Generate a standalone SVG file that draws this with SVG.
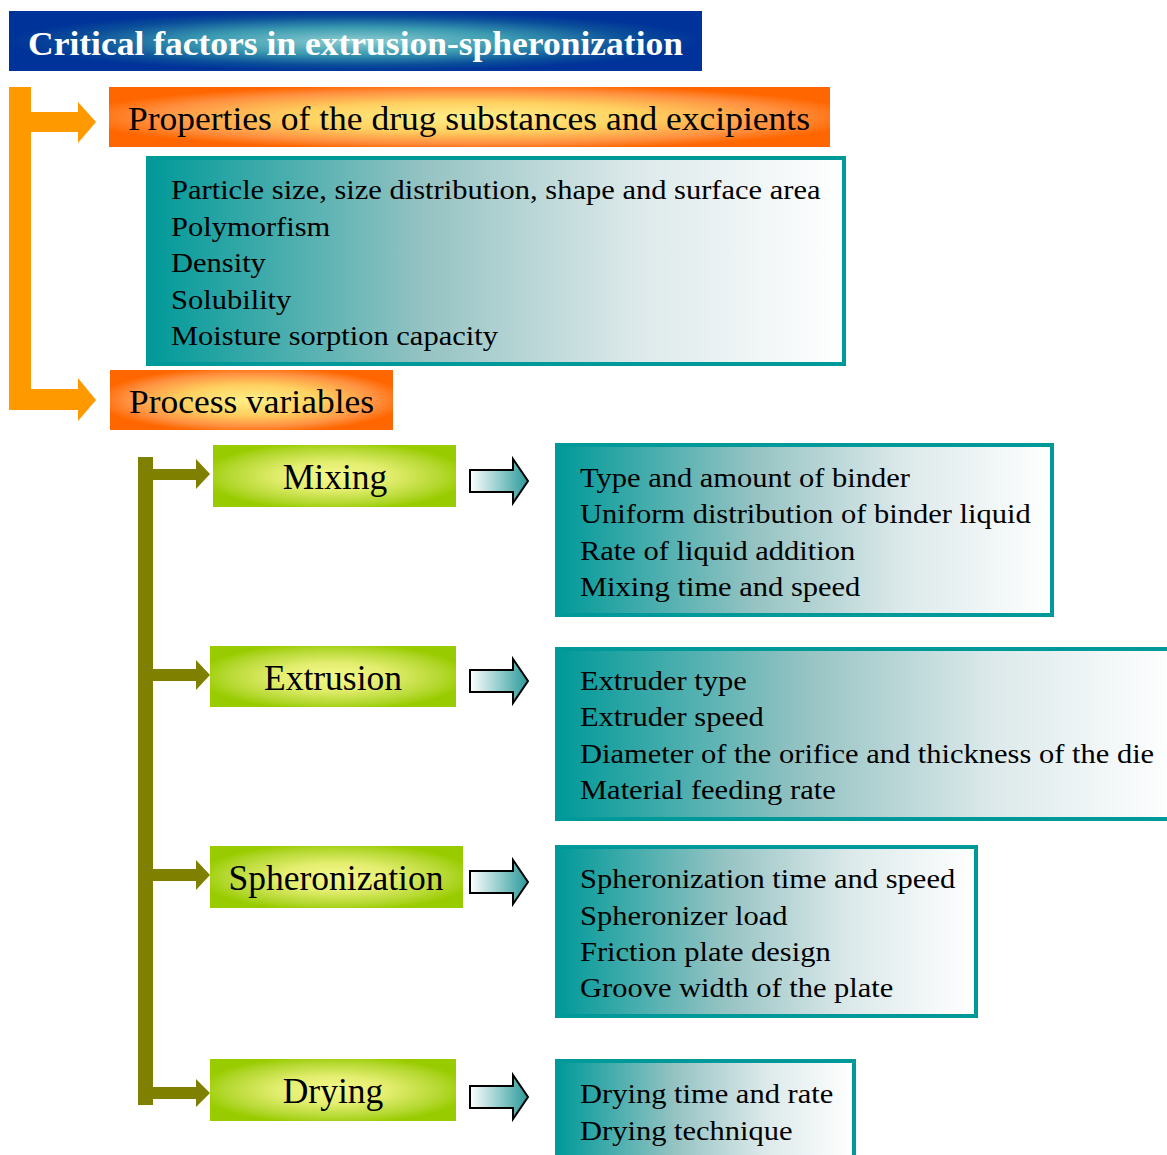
<svg xmlns="http://www.w3.org/2000/svg" width="1167" height="1155" viewBox="0 0 1167 1155">
<defs>
<radialGradient id="gTitle" cx="0.5" cy="0.5" r="0.5">
<stop offset="0" stop-color="#8CCDD0"/>
<stop offset="0.45" stop-color="#3A9AB0"/>
<stop offset="0.8" stop-color="#0A4E9A"/>
<stop offset="1" stop-color="#003399"/>
</radialGradient>
<radialGradient id="gOrange" cx="0.5" cy="0.5" r="0.55">
<stop offset="0" stop-color="#FFF08A"/>
<stop offset="0.45" stop-color="#FFD060"/>
<stop offset="0.8" stop-color="#FF9040"/>
<stop offset="1" stop-color="#FF6600"/>
</radialGradient>
<radialGradient id="gGreen" cx="0.5" cy="0.5" r="0.55">
<stop offset="0" stop-color="#F4F88A"/>
<stop offset="0.4" stop-color="#E4EE70"/>
<stop offset="0.8" stop-color="#B4D830"/>
<stop offset="1" stop-color="#99CC00"/>
</radialGradient>
<linearGradient id="gTeal" x1="0" y1="0" x2="1" y2="0">
<stop offset="0" stop-color="#009999"/>
<stop offset="0.4" stop-color="#96C3C3"/>
<stop offset="0.7" stop-color="#DCE9EA"/>
<stop offset="1" stop-color="#FFFFFF"/>
</linearGradient>
<linearGradient id="gArrow" x1="0" y1="0" x2="1" y2="0">
<stop offset="0" stop-color="#FFFFFF"/>
<stop offset="1" stop-color="#2A9A9A"/>
</linearGradient>
</defs>
<style>
.title{font-family:"Liberation Serif","Times New Roman",serif;font-weight:bold;font-size:34px;fill:#FFFFFF}
.head{font-family:"Liberation Serif","Times New Roman",serif;font-size:33px;fill:#000}
.step{font-family:"Liberation Serif","Times New Roman",serif;font-size:35.5px;fill:#000;text-anchor:middle}
.det{font-family:"Liberation Serif","Times New Roman",serif;font-size:28px;fill:#000}
.tealbox{fill:url(#gTeal);stroke:#009999;stroke-width:4}
.harrow{fill:url(#gArrow);stroke:#000;stroke-width:2;stroke-linejoin:miter}
</style>

<g id="connectors">
<path d="M9 87 H31 V112 H78 V102 L96 122 L78 143 V132 H31 V389 H78 V378 L96 400 L78 421 V410 H9 Z" fill="#FF9900"/>
<path d="M138 457 H153 V469 H196 V459 L210 474 L196 489 V480 H153 V669 H196 V660 L210 675 L196 690 V681 H153 V869 H196 V860 L210 875 L196 890 V881 H153 V1087 H196 V1079 L210 1093 L196 1107 V1099 H153 V1105 H138 Z" fill="#808000"/>
<path class="harrow" d="M470 470 H513 V459 L528 481 L513 503 V492 H470 Z"/>
<path class="harrow" d="M470 670 H513 V659 L528 681 L513 703 V692 H470 Z"/>
<path class="harrow" d="M470 871 H513 V860 L528 882 L513 904 V893 H470 Z"/>
<path class="harrow" d="M470 1086 H513 V1075 L528 1097 L513 1119 V1108 H470 Z"/>
</g>

<g id="title">
<rect x="9" y="11" width="693" height="60" fill="url(#gTitle)"/>
<text class="title" x="28" y="55" textLength="655" lengthAdjust="spacingAndGlyphs">Critical factors in extrusion-spheronization</text>
</g>

<g id="properties">
<rect x="109" y="87" width="721" height="60" fill="url(#gOrange)"/>
<text class="head" x="128" y="130" textLength="682" lengthAdjust="spacingAndGlyphs">Properties of the drug substances and excipients</text>
</g>

<g id="properties-details">
<rect class="tealbox" x="148" y="158" width="696" height="206"/>
<g transform="translate(171,0) scale(1.09,1) translate(-171,0)">
<text class="det" x="171" y="199">Particle size, size distribution, shape and surface area</text>
<text class="det" x="171" y="236">Polymorfism</text>
<text class="det" x="171" y="272">Density</text>
<text class="det" x="171" y="309">Solubility</text>
<text class="det" x="171" y="345">Moisture sorption capacity</text>
</g>
</g>

<g id="process-variables">
<rect x="110" y="370" width="283" height="60" fill="url(#gOrange)"/>
<text class="head" x="129" y="413" textLength="245" lengthAdjust="spacingAndGlyphs">Process variables</text>
</g>

<g id="mixing">
<rect x="213" y="445" width="243" height="62" fill="url(#gGreen)"/>
<text class="step" x="335" y="489">Mixing</text>
</g>
<g id="mixing-details">
<rect class="tealbox" x="557" y="445" width="495" height="170"/>
<g transform="translate(580,0) scale(1.09,1) translate(-580,0)">
<text class="det" x="580" y="487">Type and amount of binder</text>
<text class="det" x="580" y="523">Uniform distribution of binder liquid</text>
<text class="det" x="580" y="560">Rate of liquid addition</text>
<text class="det" x="580" y="596">Mixing time and speed</text>
</g>
</g>

<g id="extrusion">
<rect x="210" y="646" width="246" height="61" fill="url(#gGreen)"/>
<text class="step" x="333" y="690">Extrusion</text>
</g>
<g id="extrusion-details">
<rect class="tealbox" x="557" y="649" width="620" height="170"/>
<g transform="translate(580,0) scale(1.09,1) translate(-580,0)">
<text class="det" x="580" y="690">Extruder type</text>
<text class="det" x="580" y="726">Extruder speed</text>
<text class="det" x="580" y="763">Diameter of the orifice and thickness of the die</text>
<text class="det" x="580" y="799">Material feeding rate</text>
</g>
</g>

<g id="spheronization">
<rect x="210" y="846" width="253" height="62" fill="url(#gGreen)"/>
<text class="step" x="336" y="890">Spheronization</text>
</g>
<g id="spheronization-details">
<rect class="tealbox" x="557" y="847" width="419" height="169"/>
<g transform="translate(580,0) scale(1.09,1) translate(-580,0)">
<text class="det" x="580" y="888">Spheronization time and speed</text>
<text class="det" x="580" y="925">Spheronizer load</text>
<text class="det" x="580" y="961">Friction plate design</text>
<text class="det" x="580" y="997">Groove width of the plate</text>
</g>
</g>

<g id="drying">
<rect x="210" y="1059" width="246" height="62" fill="url(#gGreen)"/>
<text class="step" x="333" y="1103">Drying</text>
</g>
<g id="drying-details">
<rect class="tealbox" x="557" y="1061" width="297" height="110"/>
<g transform="translate(580,0) scale(1.09,1) translate(-580,0)">
<text class="det" x="580" y="1103">Drying time and rate</text>
<text class="det" x="580" y="1140">Drying technique</text>
</g>
</g>
</svg>
